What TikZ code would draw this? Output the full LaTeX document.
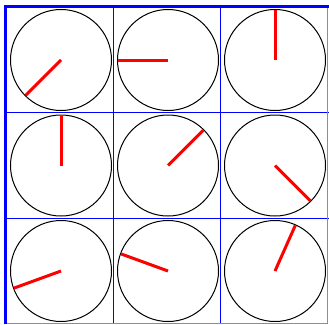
\documentclass[tikz,border=0pt]{standalone}
\definecolor{rejilla}{RGB}{0, 0, 255}
\definecolor{aguja}{RGB}{255, 0, 0}
\tikzset{
  linea/.style={rejilla,line width=1pt},
  esfera/.style={black,line width=1pt},
  manecilla/.style={aguja,line width=3pt}
}
\begin{document}
\begin{tikzpicture}[x=1pt,y=-1pt]
        \useasboundingbox (0,0) rectangle (329,324);
        % rejilla
        \foreach \x in {113.5,220.5}
          \draw[linea] (\x,6.5) -- (\x,324);
        \foreach \y in {112.5,218.5}
          \draw[linea] (5.5,\y) -- (329,\y);
        \draw[linea,rejilla!50] (327.5,6.5) -- (327.5,323.5) -- (5.5,323.5);
        \draw[rejilla,line width=3pt] (5.5,324) -- (5.5,6.5) -- (329,6.5);
        % esferas y manecillas
        \foreach \c/\r/\a in {0/0/225,1/0/180,2/0/90,0/1/90,1/1/45,2/1/-45,0/2/200,1/2/160,2/2/66}{
          \draw[esfera] (61+107*\c,60+105.5*\r) circle[radius=50.5];
          \draw[manecilla] (61+107*\c,60+105.5*\r) -- ++(-\a:50);
        }
      \end{tikzpicture}
\end{document}
